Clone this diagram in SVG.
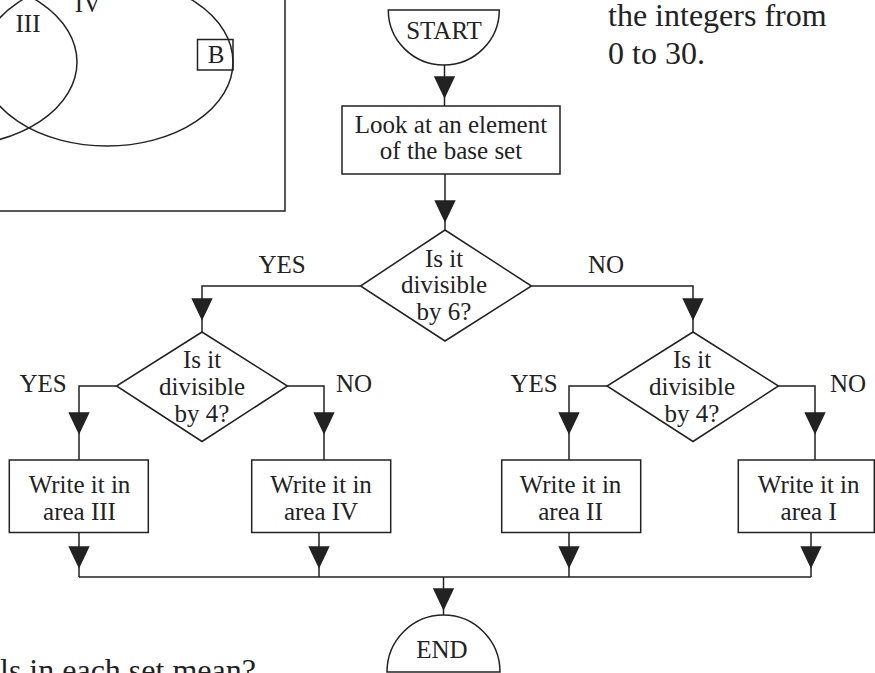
<svg xmlns="http://www.w3.org/2000/svg" xmlns:xlink="http://www.w3.org/1999/xlink" width="875" height="673" viewBox="0 0 875 673">
<style>
.s{fill:none;stroke:#222;stroke-width:1.5}
.n{fill:#fff;stroke:#222;stroke-width:1.5}
text{font-family:"Liberation Serif","Times New Roman",serif;fill:#222;text-anchor:middle}
.t{font-size:25px}
.big{font-size:32px;text-anchor:start}
</style>
<defs>
<path id="ah" d="M-9.5,-20 L9.5,-20 L0,0 Z" fill="#222"/>
</defs>
<rect width="875" height="673" fill="#fff"/>
<g id="venn">
<path class="s" d="M0,211 H285 V0" stroke-width="2"/>
<ellipse class="s" cx="107" cy="62" rx="126" ry="84"/>
<ellipse class="s" cx="-49" cy="62" rx="126" ry="84"/>
<text class="t" x="28" y="32">III</text>
<text class="t" x="88" y="11.5">IV</text>
<rect class="s" x="197.5" y="39.5" width="35.5" height="30.5"/>
<text class="t" x="216" y="63">B</text>
</g>
<g id="notes">
<text class="big" x="608" y="26">the integers from</text>
<text class="big" x="608" y="64">0 to 30.</text>
<text class="big" x="0" y="681">ls in each set mean?</text>
</g>
<g id="connectors" class="s">
<path d="M444.5,65 V106"/>
<path d="M445,174 V230"/>
<path d="M360.5,286 H202 V332"/>
<path d="M531.5,286 H693 V332"/>
<path d="M116.5,386 H79 V460"/>
<path d="M287.5,386 H324 V460"/>
<path d="M607,386 H569 V460"/>
<path d="M778.5,386 H815 V460"/>
<path d="M79,532.5 V577 M319,532.5 V577 M569,532.5 V577 M811,532.5 V577 M79,577 H811"/>
<path d="M443.5,577 V615"/>
<use href="#ah" x="444.5" y="97"/>
<use href="#ah" x="445" y="221"/>
<use href="#ah" x="202" y="319"/>
<use href="#ah" x="693" y="319"/>
<use href="#ah" x="79" y="433"/>
<use href="#ah" x="324" y="433"/>
<use href="#ah" x="569" y="433"/>
<use href="#ah" x="815" y="433"/>
<use href="#ah" x="79" y="567"/>
<use href="#ah" x="319" y="567"/>
<use href="#ah" x="569" y="567"/>
<use href="#ah" x="811" y="567"/>
<use href="#ah" x="443.5" y="609"/>
</g>
<g id="start">
<path class="n" d="M388.3,10 A55.5,55 0 0 0 499.3,10 Z"/>
<text class="t" x="444" y="39">START</text>
</g>
<g id="look">
<rect class="n" x="342" y="106" width="218" height="68"/>
<text class="t" x="451" y="133">Look at an element</text>
<text class="t" x="451" y="159">of the base set</text>
</g>
<g id="d6">
<polygon class="n" points="445,230 531.5,286 445,341 360.5,286"/>
<text class="t" x="444" y="266.5">Is it</text>
<text class="t" x="444" y="293">divisible</text>
<text class="t" x="444" y="319.5">by 6?</text>
<text class="t" x="282" y="273">YES</text>
<text class="t" x="606" y="273">NO</text>
</g>
<g id="d4left">
<polygon class="n" points="202,332 287.5,386 202,441.5 116.5,386"/>
<text class="t" x="202" y="368">Is it</text>
<text class="t" x="202" y="395">divisible</text>
<text class="t" x="202" y="421.5">by 4?</text>
<text class="t" x="43" y="392">YES</text>
<text class="t" x="354" y="392">NO</text>
</g>
<g id="d4right">
<polygon class="n" points="693,332 778.5,386 693,441.5 607,386"/>
<text class="t" x="692" y="368">Is it</text>
<text class="t" x="692" y="395">divisible</text>
<text class="t" x="692" y="421.5">by 4?</text>
<text class="t" x="534" y="392">YES</text>
<text class="t" x="848" y="392">NO</text>
</g>
<g id="areaIII">
<rect class="n" x="9.3" y="460" width="139" height="72.5"/>
<text class="t" x="79.5" y="493">Write it in</text>
<text class="t" x="79.5" y="520">area III</text>
</g>
<g id="areaIV">
<rect class="n" x="251.7" y="460" width="139" height="72.5"/>
<text class="t" x="321" y="493">Write it in</text>
<text class="t" x="321" y="520">area IV</text>
</g>
<g id="areaII">
<rect class="n" x="501.7" y="460" width="139" height="72.5"/>
<text class="t" x="570.5" y="493">Write it in</text>
<text class="t" x="570.5" y="520">area II</text>
</g>
<g id="areaI">
<rect class="n" x="738.3" y="460" width="136" height="72.5"/>
<text class="t" x="808.7" y="493">Write it in</text>
<text class="t" x="808.7" y="520">area I</text>
</g>
<g id="end">
<path class="n" d="M387,672 A56.5,57 0 0 1 500,672 Z"/>
<text class="t" x="442" y="658">END</text>
</g>
</svg>
